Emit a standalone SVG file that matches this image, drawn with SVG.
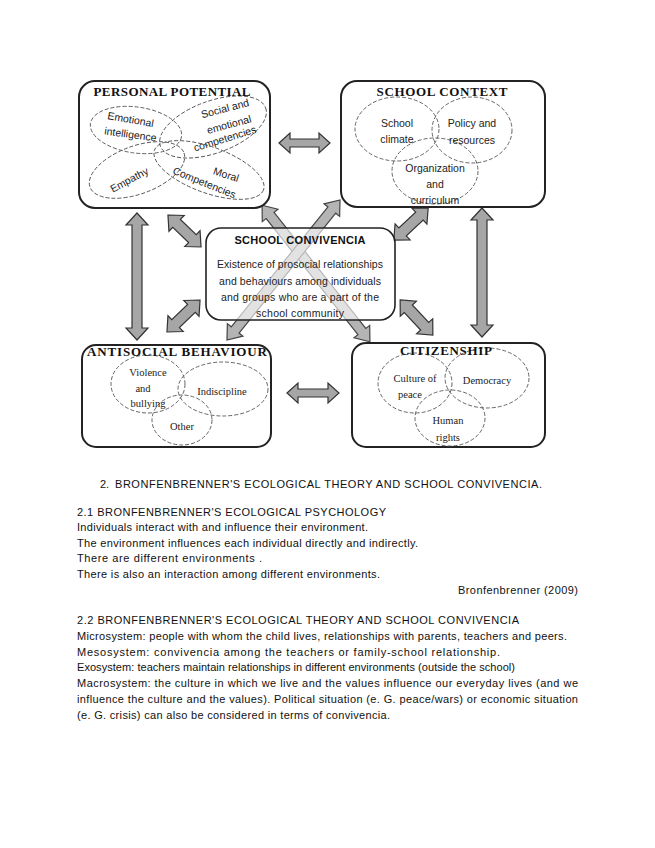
<svg xmlns="http://www.w3.org/2000/svg" width="655" height="848" viewBox="0 0 655 848">
<defs>
<style>
.box{fill:#fff;stroke:#222;stroke-width:2}
.ell{fill:none;stroke:#555;stroke-width:0.9;stroke-dasharray:4 2}
.arr{fill:#a6a6a6;stroke:#333;stroke-width:1.2;stroke-linejoin:miter}
.xarr{fill:#b4b4b4;stroke:#444;stroke-width:1.2}
.ttl{font-family:"Liberation Serif",serif;font-weight:bold;font-size:13px;fill:#111;text-anchor:middle}
.sn{font-family:"Liberation Sans",Arial,sans-serif;font-size:10.5px;fill:#222;text-anchor:middle}
.sf{font-family:"Liberation Serif",serif;font-size:10.5px;fill:#222;text-anchor:middle}
.body{font-family:"Liberation Sans",Arial,sans-serif;font-size:11px;fill:#111}
</style>
</defs>

<g id="connectors">
<polygon class="arr" points="279,143 290,133 290,139 319,139 319,133 330,143 319,153 319,147 290,147 290,153"/>
<polygon class="arr" points="287,393 298,383 298,389 328,389 328,383 339,393 328,403 328,397 298,397 298,403"/>
<polygon class="arr" points="137,213 148,225 142,225 142,328 148,328 137,340 126,328 132,328 132,225 126,225"/>
<polygon class="arr" points="482,208 493,220 487,220 487,325 493,325 482,337 471,325 477,325 477,220 471,220"/>
<g transform="translate(184.5,231) rotate(44)"><polygon class="arr" points="-23,0 -11,-11 -11,-5.5 11,-5.5 11,-11 23,0 11,11 11,5.5 -11,5.5 -11,11"/></g>
<g transform="translate(183.5,316) rotate(-44)"><polygon class="arr" points="-23,0 -11,-11 -11,-5.5 11,-5.5 11,-11 23,0 11,11 11,5.5 -11,5.5 -11,11"/></g>
<g transform="translate(411,224) rotate(-43)"><polygon class="arr" points="-23.5,0 -11.5,-11 -11.5,-5.5 11.5,-5.5 11.5,-11 23.5,0 11.5,11 11.5,5.5 -11.5,5.5 -11.5,11"/></g>
<g transform="translate(416.5,317.5) rotate(47)"><polygon class="arr" points="-24,0 -12,-11 -12,-5.5 12,-5.5 12,-11 24,0 12,11 12,5.5 -12,5.5 -12,11"/></g>
<g transform="translate(316,273.5) rotate(51.7)"><polygon class="xarr" points="-87,0 -74,-10 -74,-5 74,-5 74,-10 87,0 74,10 74,5 -74,5 -74,10"/></g>
<g transform="translate(283.5,270) rotate(128.9)"><polygon class="xarr" points="-90,0 -77,-10 -77,-5 77,-5 77,-10 90,0 77,10 77,5 -77,5 -77,10"/></g>
</g>

<g id="personal-potential">
<rect class="box" x="79" y="81" width="191" height="127" rx="16"/>
<ellipse class="ell" cx="136" cy="130" rx="46" ry="23" transform="rotate(8 136 130)"/>
<ellipse class="ell" cx="213" cy="127" rx="56" ry="26" transform="rotate(-20 213 127)"/>
<ellipse class="ell" cx="137" cy="170" rx="50" ry="24" transform="rotate(-20 137 170)"/>
<ellipse class="ell" cx="209" cy="170" rx="58" ry="23" transform="rotate(20 209 170)"/>
<text class="ttl" x="172" y="96" textLength="157">PERSONAL POTENTIAL</text>
<text class="sn" transform="translate(130,123) rotate(10)">Emotional</text>
<text class="sn" transform="translate(130,138) rotate(8)">intelligence</text>
<text class="sn" transform="translate(226,112) rotate(-15)">Social and</text>
<text class="sn" transform="translate(230,128) rotate(-15)">emotional</text>
<text class="sn" transform="translate(226,142) rotate(-17)">competencies</text>
<text class="sn" transform="translate(131,183) rotate(-28)">Empathy</text>
<text class="sn" transform="translate(225,178) rotate(18)">Moral</text>
<text class="sn" transform="translate(203,186) rotate(22)">Competencies</text>
</g>

<g id="school-context">
<rect class="box" x="341" y="81" width="204" height="126" rx="16"/>
<ellipse class="ell" cx="397" cy="129" rx="42" ry="32"/>
<ellipse class="ell" cx="472" cy="130" rx="40" ry="33"/>
<ellipse class="ell" cx="435" cy="171" rx="43" ry="33"/>
<text class="ttl" x="442" y="96" textLength="131">SCHOOL CONTEXT</text>
<text class="sn" x="397" y="127">School</text>
<text class="sn" x="397" y="143">climate</text>
<text class="sn" x="472" y="127">Policy and</text>
<text class="sn" x="472" y="144">resources</text>
<text class="sn" x="435" y="172">Organization</text>
<text class="sn" x="435" y="188">and</text>
<text class="sn" x="435" y="204">curriculum</text>
</g>

<g id="school-convivencia">
<rect x="206" y="228" width="189" height="92" rx="15" fill="#fff" fill-opacity="0.62" stroke="#222" stroke-width="1.6"/>
<text x="300" y="244" font-family="'Liberation Sans',Arial,sans-serif" font-weight="bold" font-size="11" fill="#111" text-anchor="middle" textLength="131">SCHOOL CONVIVENCIA</text>
<text class="sn" x="300" y="268" textLength="166">Existence of prosocial relationships</text>
<text class="sn" x="300" y="285" textLength="162">and behaviours among individuals</text>
<text class="sn" x="300" y="301" textLength="158">and groups who are a part of the</text>
<text class="sn" x="300" y="317" textLength="88">school community</text>
</g>

<g id="antisocial-behaviour">
<rect class="box" x="82" y="345" width="189" height="102" rx="14"/>
<ellipse class="ell" cx="148" cy="384" rx="37" ry="29"/>
<ellipse class="ell" cx="223" cy="389" rx="45" ry="27"/>
<ellipse class="ell" cx="182" cy="420" rx="30" ry="25"/>
<text class="ttl" x="177" y="356" textLength="180">ANTISOCIAL BEHAVIOUR</text>
<text class="sf" x="148" y="376">Violence</text>
<text class="sf" x="143" y="392">and</text>
<text class="sf" x="148" y="407">bullying</text>
<text class="sf" x="222" y="395">Indiscipline</text>
<text class="sf" x="182" y="430">Other</text>
</g>

<g id="citizenship">
<rect class="box" x="352" y="343" width="193" height="104" rx="14"/>
<ellipse class="ell" cx="415" cy="383" rx="37" ry="30"/>
<ellipse class="ell" cx="487" cy="378" rx="42" ry="30"/>
<ellipse class="ell" cx="450" cy="418" rx="35" ry="28"/>
<text class="ttl" x="446" y="355" textLength="92">CITIZENSHIP</text>
<text class="sf" x="415" y="382">Culture of</text>
<text class="sf" x="410" y="398">peace</text>
<text class="sf" x="487" y="384">Democracy</text>
<text class="sf" x="448" y="424">Human</text>
<text class="sf" x="448" y="441">rights</text>
</g>

<g id="body-text">
<text class="body" x="100" y="488">2.</text>
<text class="body" x="115" y="488" textLength="427">BRONFENBRENNER'S ECOLOGICAL THEORY AND SCHOOL CONVIVENCIA.</text>
<text class="body" x="77" y="516" textLength="309">2.1 BRONFENBRENNER'S ECOLOGICAL PSYCHOLOGY</text>
<text class="body" x="77" y="531" textLength="291">Individuals interact with and influence their environment.</text>
<text class="body" x="77" y="547" textLength="341">The environment influences each individual directly and indirectly.</text>
<text class="body" x="77" y="562" textLength="185">There are different environments .</text>
<text class="body" x="77" y="578" textLength="303">There is also an interaction among different environments.</text>
<text class="body" x="578" y="594" text-anchor="end" textLength="120">Bronfenbrenner (2009)</text>
<text class="body" x="77" y="624" textLength="442">2.2 BRONFENBRENNER'S ECOLOGICAL THEORY AND SCHOOL CONVIVENCIA</text>
<text class="body" x="77" y="640" textLength="490">Microsystem: people with whom the child lives, relationships with parents, teachers and peers.</text>
<text class="body" x="77" y="656" textLength="423">Mesosystem: convivencia among the teachers or family-school relationship.</text>
<text class="body" x="77" y="671" textLength="438">Exosystem: teachers maintain relationships in different environments (outside the school)</text>
<text class="body" x="77" y="687" textLength="501">Macrosystem: the culture in which we live and the values influence our everyday lives (and we</text>
<text class="body" x="77" y="703" textLength="501">influence the culture and the values). Political situation (e. G. peace/wars) or economic situation</text>
<text class="body" x="77" y="719" textLength="313">(e. G. crisis) can also be considered in terms of convivencia.</text>
</g>
</svg>
